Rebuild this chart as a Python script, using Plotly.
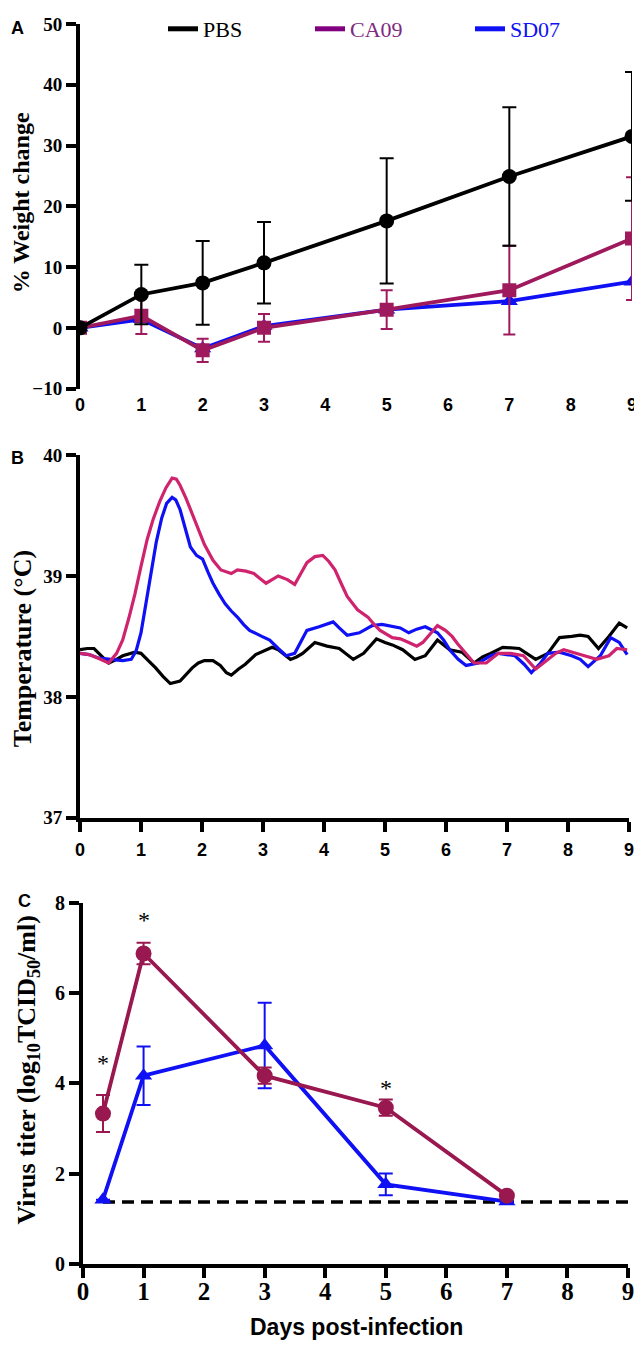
import plotly.graph_objects as go

# ---------------- Panel A : weight change ----------------
days_a = [0, 1, 2, 3, 5, 7, 9]
pbs_w = [0, 5.5, 7.4, 10.7, 17.6, 24.9, 31.5]
pbs_w_err = [0, 4.9, 6.9, 6.7, 10.3, 11.4, 10.6]
ca09_w = [0, 2.0, -3.7, 0.0, 3.0, 6.2, 14.7]
ca09_w_err = [0, 3.0, 1.9, 2.3, 3.2, 7.3, 10.1]
sd07_w = [0, 1.4, -3.4, 0.3, 3.0, 4.4, 7.6]

# ---------------- Panel B : temperature ----------------
pbs_t_day = [0, 0.12, 0.23, 0.35, 0.47, 0.6, 0.7, 0.9, 1.0, 1.12, 1.24, 1.36, 1.48, 1.64, 1.74, 1.84,
             1.94, 2.04, 2.18, 2.3, 2.4, 2.48, 2.6, 2.71, 2.88, 3.05, 3.15, 3.25, 3.45, 3.55, 3.65,
             3.85, 4.05, 4.25, 4.48, 4.65, 4.86, 5.0, 5.12, 5.29, 5.49, 5.66, 5.86, 6.06, 6.26,
             6.46, 6.6, 6.73, 6.93, 7.2, 7.47, 7.67, 7.86, 8.06, 8.2, 8.33, 8.5, 8.67, 8.84, 8.97]
pbs_t = [38.39, 38.40, 38.40, 38.34, 38.28, 38.31, 38.34, 38.37, 38.36, 38.30, 38.24, 38.17, 38.11,
         38.13, 38.19, 38.24, 38.28, 38.30, 38.30, 38.26, 38.20, 38.18, 38.23, 38.27, 38.35, 38.39,
         38.41, 38.39, 38.31, 38.33, 38.36, 38.45, 38.42, 38.40, 38.31, 38.36, 38.48, 38.45, 38.43,
         38.39, 38.31, 38.34, 38.47, 38.39, 38.37, 38.28, 38.33, 38.36, 38.41, 38.40, 38.31, 38.36,
         38.49, 38.50, 38.51, 38.50, 38.40, 38.50, 38.61, 38.57]

sd07_t_day = [0, 0.15, 0.31, 0.51, 0.7, 0.84, 0.92, 1.0, 1.08, 1.17, 1.25, 1.34, 1.42, 1.51, 1.57,
              1.64, 1.72, 1.81, 1.91, 2.01, 2.1, 2.18, 2.28, 2.38, 2.48, 2.58, 2.68, 2.78, 2.98, 3.11,
              3.25, 3.38, 3.52, 3.62, 3.72, 3.92, 4.05, 4.15, 4.25, 4.38, 4.58, 4.79, 4.95, 5.12,
              5.25, 5.39, 5.52, 5.66, 5.86, 5.96, 6.06, 6.2, 6.33, 6.53, 6.73, 6.86, 7.13, 7.28, 7.4,
              7.55, 7.67, 7.86, 8.06, 8.2, 8.33, 8.53, 8.62, 8.7, 8.84, 8.97]
sd07_t = [38.36, 38.35, 38.32, 38.31, 38.30, 38.31, 38.38, 38.53, 38.78, 39.05, 39.28, 39.48, 39.60,
          39.65, 39.63, 39.55, 39.40, 39.24, 39.17, 39.14, 39.03, 38.94, 38.85, 38.77, 38.71, 38.66,
          38.60, 38.55, 38.50, 38.47, 38.40, 38.34, 38.36, 38.45, 38.55, 38.58, 38.60, 38.62, 38.57,
          38.51, 38.53, 38.59, 38.60, 38.58, 38.57, 38.53, 38.56, 38.58, 38.53, 38.47, 38.39, 38.31,
          38.26, 38.28, 38.34, 38.36, 38.34, 38.27, 38.20, 38.28, 38.36, 38.37, 38.34, 38.31, 38.25,
          38.34, 38.42, 38.49, 38.45, 38.35]

ca09_t_day = [0, 0.15, 0.3, 0.47, 0.6, 0.7, 0.8, 0.9, 1.0, 1.1, 1.2, 1.31, 1.41, 1.51, 1.58, 1.64,
              1.74, 1.84, 1.94, 2.04, 2.18, 2.31, 2.48, 2.58, 2.72, 2.85, 2.95, 3.05, 3.15, 3.25, 3.4,
              3.52, 3.62, 3.72, 3.85, 3.98, 4.08, 4.18, 4.28, 4.38, 4.55, 4.72, 4.82, 4.92, 5.12,
              5.25, 5.39, 5.52, 5.62, 5.69, 5.86, 5.99, 6.1, 6.19, 6.32, 6.46, 6.66, 6.86, 7.06, 7.27,
              7.47, 7.57, 7.67, 7.8, 7.93, 8.05, 8.2, 8.47, 8.6, 8.67, 8.8, 8.97]
ca09_t = [38.36, 38.35, 38.32, 38.28, 38.36, 38.47, 38.65, 38.85, 39.08, 39.30, 39.47, 39.62, 39.73,
          39.81, 39.80, 39.75, 39.64, 39.51, 39.38, 39.26, 39.13, 39.05, 39.02, 39.05, 39.04, 39.02,
          38.98, 38.94, 38.97, 39.00, 38.97, 38.93, 39.02, 39.11, 39.16, 39.17, 39.12, 39.05, 38.94,
          38.83, 38.72, 38.66, 38.60, 38.55, 38.49, 38.48, 38.45, 38.42, 38.45, 38.49, 38.59, 38.55,
          38.50, 38.44, 38.36, 38.28, 38.28, 38.36, 38.36, 38.34, 38.23, 38.27, 38.31, 38.36, 38.39,
          38.37, 38.35, 38.31, 38.33, 38.34, 38.40, 38.39]

# ---------------- Panel C : virus titer ----------------
days_c = [0.33, 1, 3, 5, 7]
ca09_v = [3.33, 6.88, 4.17, 3.46, 1.51]
ca09_v_err = [0.41, 0.24, 0.18, 0.18, 0]
sd07_v = [1.42, 4.17, 4.84, 1.76, 1.38]
sd07_v_err = [0, 0.65, 0.95, 0.24, 0]
lod_x = [0.33, 9]
lod_y = [1.37, 1.37]
star_x = [0.33, 1, 5]
star_y = [4.11, 7.30, 3.56]

x_ticks = list(range(10))

BLACK = "#000000"
MAROON_A = "#9E1A5C"
PURPLE = "#800080"
BLUE = "#1010F5"
PINK_B = "#CF236E"
MAROON_C = "#98184F"

SERIF = "Liberation Serif, Times New Roman, serif"
SANS = "Liberation Sans, Arial, sans-serif"

# the page body has an 8px margin; the figure fills the rest of the 642x1345 window
OFF = 8
FW, FH = 642 - OFF, 1345 - OFF


def fy(py):
    return 1 - (py - OFF) / FH


def fx(px):
    return (px - OFF) / FW


dom_ax = [fx(80), fx(632)]
dom_ay = [fy(380), fy(12)]
dom_bx = [fx(80), fx(629)]
dom_by = [fy(813), fy(447)]
dom_cx = [fx(83), fx(628)]
dom_cy = [fy(1263), fy(899)]

fig = go.Figure()

# Panel A traces
fig.add_trace(go.Scatter(x=days_a, y=sd07_w, mode="lines+markers", xaxis="x", yaxis="y",
                         line=dict(color=BLUE, width=3.8),
                         marker=dict(symbol="triangle-up", size=15, color=BLUE), showlegend=False))
fig.add_trace(go.Scatter(x=days_a, y=ca09_w, mode="lines+markers", xaxis="x", yaxis="y",
                         line=dict(color=MAROON_A, width=3.8),
                         marker=dict(symbol="square", size=14, color=MAROON_A),
                         error_y=dict(type="data", array=ca09_w_err, color=MAROON_A, thickness=2, width=6),
                         showlegend=False))
fig.add_trace(go.Scatter(x=days_a, y=pbs_w, mode="lines+markers", xaxis="x", yaxis="y",
                         line=dict(color=BLACK, width=3.8),
                         marker=dict(symbol="circle", size=15, color=BLACK),
                         error_y=dict(type="data", array=pbs_w_err, color=BLACK, thickness=2, width=7),
                         showlegend=False))

# legend entries (one legend box per entry so each sits where the original puts it)
fig.add_trace(go.Scatter(x=[None], y=[None], mode="lines", xaxis="x", yaxis="y",
                         line=dict(color=BLACK, width=5), name="PBS", legend="legend"))
fig.add_trace(go.Scatter(x=[None], y=[None], mode="lines", xaxis="x", yaxis="y",
                         line=dict(color=PURPLE, width=5),
                         name='<span style="color:#7F2A7F">CA09</span>', legend="legend2"))
fig.add_trace(go.Scatter(x=[None], y=[None], mode="lines", xaxis="x", yaxis="y",
                         line=dict(color=BLUE, width=5),
                         name='<span style="color:#1010F5">SD07</span>', legend="legend3"))

# Panel B traces
fig.add_trace(go.Scatter(x=pbs_t_day, y=pbs_t, mode="lines", xaxis="x2", yaxis="y2",
                         line=dict(color=BLACK, width=3.2), showlegend=False))
fig.add_trace(go.Scatter(x=sd07_t_day, y=sd07_t, mode="lines", xaxis="x2", yaxis="y2",
                         line=dict(color=BLUE, width=3.2), showlegend=False))
fig.add_trace(go.Scatter(x=ca09_t_day, y=ca09_t, mode="lines", xaxis="x2", yaxis="y2",
                         line=dict(color=PINK_B, width=3.2), showlegend=False))

# Panel C traces
fig.add_trace(go.Scatter(x=lod_x, y=lod_y, mode="lines", xaxis="x3", yaxis="y3",
                         line=dict(color=BLACK, width=3.5, dash="12px,7px"), showlegend=False))
fig.add_trace(go.Scatter(x=days_c, y=sd07_v, mode="lines+markers", xaxis="x3", yaxis="y3",
                         line=dict(color=BLUE, width=3.8),
                         marker=dict(symbol="triangle-up", size=15, color=BLUE),
                         error_y=dict(type="data", array=sd07_v_err, color=BLUE, thickness=2, width=7),
                         showlegend=False))
fig.add_trace(go.Scatter(x=days_c, y=ca09_v, mode="lines+markers", xaxis="x3", yaxis="y3",
                         line=dict(color=MAROON_C, width=3.8),
                         marker=dict(symbol="circle", size=16, color=MAROON_C),
                         error_y=dict(type="data", array=ca09_v_err, color=MAROON_C, thickness=2, width=7),
                         showlegend=False))

ax_common = dict(showgrid=False, zeroline=False, linecolor=BLACK, linewidth=4,
                 tickcolor=BLACK, tickwidth=4, ticklen=10, ticks="outside", automargin=False)

a_range_y = [-10, 50]
zero_pos = dom_ay[0] + (0 - a_range_y[0]) / (a_range_y[1] - a_range_y[0]) * (dom_ay[1] - dom_ay[0])

leg_common = dict(orientation="h", xanchor="left", yanchor="middle", y=fy(17),
                  font=dict(family=SERIF, size=22, color=BLACK), bgcolor="rgba(0,0,0,0)",
                  itemclick=False, itemdoubleclick=False)

fig.update_layout(
    width=FW, height=FH,
    margin=dict(l=0, r=0, t=0, b=0),
    paper_bgcolor="white", plot_bgcolor="white",
    showlegend=True,
    legend=dict(x=fx(163), **leg_common),
    legend2=dict(x=fx(310), **leg_common),
    legend3=dict(x=fx(470), **leg_common),
    # Panel A
    xaxis=dict(domain=dom_ax, range=[0, 9], anchor="y", tickvals=x_ticks, showline=False,
               showgrid=False, zeroline=False, ticks="", ticklabelstandoff=3,
               tickfont=dict(family=SANS, size=18, color=BLACK, weight="bold"), automargin=False),
    xaxis4=dict(domain=dom_ax, range=[0, 9], anchor="free", position=zero_pos, overlaying="x",
                tickvals=x_ticks, showticklabels=False, showline=True, **ax_common),
    yaxis=dict(domain=dom_ay, range=a_range_y, anchor="x", tickvals=[-10, 0, 10, 20, 30, 40, 50],
               ticktext=["\u221210", "0", "10", "20", "30", "40", "50"], showline=True,
               tickfont=dict(family=SERIF, size=19, color=BLACK, weight="bold"), **ax_common),
    # Panel B
    xaxis2=dict(domain=dom_bx, range=[0, 9], anchor="y2", tickvals=x_ticks, showline=True,
                ticklabelstandoff=3,
                tickfont=dict(family=SANS, size=18, color=BLACK, weight="bold"), **ax_common),
    yaxis2=dict(domain=dom_by, range=[37, 40], anchor="x2", tickvals=[37, 38, 39, 40], showline=True,
                tickfont=dict(family=SERIF, size=19, color=BLACK, weight="bold"), **ax_common),
    # Panel C
    xaxis3=dict(domain=dom_cx, range=[0, 9], anchor="y3", tickvals=x_ticks, showline=True,
                ticklabelstandoff=-8,
                tickfont=dict(family=SERIF, size=25, color=BLACK, weight="bold"), **ax_common),
    yaxis3=dict(domain=dom_cy, range=[0, 8], anchor="x3", tickvals=[0, 2, 4, 6, 8], showline=True,
                tickfont=dict(family=SERIF, size=20, color=BLACK, weight="bold"), **ax_common),
)

annots = [
    dict(text="<b>A</b>", x=fx(17), y=fy(16), xref="paper", yref="paper", showarrow=False,
         font=dict(family=SANS, size=18, color=BLACK), xanchor="center", yanchor="middle"),
    dict(text="<b>B</b>", x=fx(17), y=fy(450), xref="paper", yref="paper", showarrow=False,
         font=dict(family=SANS, size=18, color=BLACK), xanchor="center", yanchor="middle"),
    dict(text="<b>C</b>", x=fx(24), y=fy(897), xref="paper", yref="paper", showarrow=False,
         font=dict(family=SANS, size=18, color=BLACK), xanchor="center", yanchor="middle"),
    dict(text="<b>% Weight change</b>", x=fx(21), y=fy(193), xref="paper", yref="paper",
         showarrow=False, textangle=-90, font=dict(family=SERIF, size=24, color=BLACK),
         xanchor="center", yanchor="middle"),
    dict(text="<b>Temperature (\u00b0C)</b>", x=fx(22), y=fy(643), xref="paper", yref="paper",
         showarrow=False, textangle=-90, font=dict(family=SERIF, size=26, color=BLACK),
         xanchor="center", yanchor="middle"),
    dict(text="<b>Virus titer (log<sub>10</sub>TCID<sub>50</sub>/ml)</b>", x=fx(28), y=fy(1068),
         xref="paper", yref="paper", showarrow=False, textangle=-90,
         font=dict(family=SERIF, size=26, color=BLACK), xanchor="center", yanchor="middle"),
    dict(text="<b>Days post-infection</b>", x=fx(356), y=fy(1327), xref="paper", yref="paper",
         showarrow=False, font=dict(family=SANS, size=23, color=BLACK),
         xanchor="center", yanchor="middle"),
]
for sx, sy in zip(star_x, star_y):
    annots.append(dict(text="*", x=sx, y=sy, xref="x3", yref="y3", showarrow=False,
                       font=dict(family=SERIF, size=24, color=BLACK), xanchor="center", yanchor="bottom"))
fig.update_layout(annotations=annots)

fig.write_html("out.html")
